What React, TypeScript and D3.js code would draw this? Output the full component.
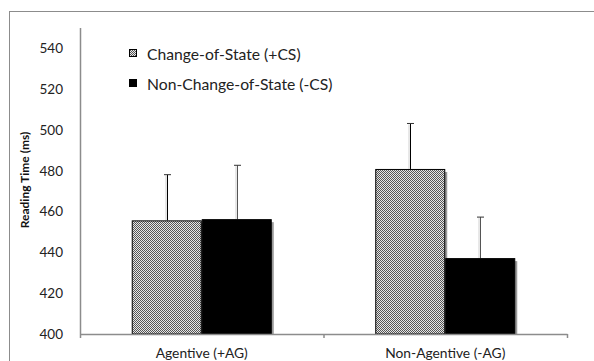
import React, { useEffect, useRef } from 'react';
import * as d3 from 'd3';

// chart data
const categories = ['Agentive (+AG)', 'Non-Agentive (-AG)'];
const seriesNames = ['Change-of-State (+CS)', 'Non-Change-of-State (-CS)'];
const csMeans = [455.7, 480.9];
const csErrors = [22.4, 22.3];
const ncsMeans = [456.3, 437.2];
const ncsErrors = [26.4, 20.1];
const yTicks = [400, 420, 440, 460, 480, 500, 520, 540];

const FONT = 'Lato, "Liberation Sans", sans-serif';

function BarChart() {
  const svgRef = useRef<SVGSVGElement>(null);

  useEffect(() => {
    const svg = d3.select(svgRef.current);
    svg.selectAll('*').remove();

    // dither pattern for the +CS bars
    const defs = svg.append('defs');
    const pat = defs.append('pattern')
      .attr('id', 'dither')
      .attr('width', 2)
      .attr('height', 2)
      .attr('patternUnits', 'userSpaceOnUse');
    pat.append('rect').attr('width', 2).attr('height', 2).attr('fill', '#e6e6e6');
    pat.append('rect').attr('width', 1).attr('height', 1).attr('fill', '#555');
    pat.append('rect').attr('x', 1).attr('y', 1).attr('width', 1).attr('height', 1).attr('fill', '#555');

    // outer frame
    svg.append('rect')
      .attr('x', 9.5).attr('y', 11.5)
      .attr('width', 590).attr('height', 360)
      .attr('fill', 'none').attr('stroke', '#8c8c8c');

    const x0 = 80, x1 = 567, yTop = 28, yBase = 334;
    const x = d3.scaleBand().domain(categories).range([x0, x1]).padding(0);
    const inner = d3.scaleBand().domain(seriesNames).range([0, x.bandwidth()])
      .paddingInner(0).paddingOuter(0.739);
    const y = d3.scaleLinear().domain([400, 550]).range([yBase, yTop]);

    const rows = categories.map((c, i) => [
      { cat: c, s: seriesNames[0], v: csMeans[i], e: csErrors[i], fill: 'url(#dither)' },
      { cat: c, s: seriesNames[1], v: ncsMeans[i], e: ncsErrors[i], fill: '#000' },
    ]).flat();

    // bar shadows
    svg.append('g').selectAll('rect').data(rows).join('rect')
      .attr('x', d => x(d.cat)! + inner(d.s)! + 2)
      .attr('y', d => y(d.v) + 3)
      .attr('width', inner.bandwidth())
      .attr('height', d => yBase - y(d.v) - 3)
      .attr('fill', '#9a9a9a');

    // error bars (upper only) with a faint shadow
    const eb = svg.append('g');
    rows.forEach(d => {
      const cx = Math.round(x(d.cat)! + inner(d.s)! + inner.bandwidth() / 2) + 0.5;
      eb.append('line')
        .attr('x1', cx - 1.5).attr('x2', cx - 1.5)
        .attr('y1', y(d.v + d.e) + 1).attr('y2', y(d.v))
        .attr('stroke', '#d0d0d0').attr('stroke-width', 1);
      eb.append('line')
        .attr('x1', cx).attr('x2', cx)
        .attr('y1', y(d.v + d.e)).attr('y2', y(d.v))
        .attr('stroke', d.fill === '#000' ? '#555' : '#000').attr('stroke-width', 1);
      eb.append('line')
        .attr('x1', cx - 3.5).attr('x2', cx + 3.5)
        .attr('y1', y(d.v + d.e)).attr('y2', y(d.v + d.e))
        .attr('stroke', '#333').attr('stroke-width', 1);
    });

    // bars
    svg.append('g').selectAll('rect').data(rows).join('rect')
      .attr('x', d => x(d.cat)! + inner(d.s)! + 0.5)
      .attr('y', d => y(d.v) + 0.5)
      .attr('width', inner.bandwidth() - 1)
      .attr('height', d => yBase - y(d.v) - 0.5)
      .attr('fill', d => d.fill)
      .attr('stroke', '#000').attr('stroke-width', 1);

    // y axis
    svg.append('line')
      .attr('x1', x0 + 0.5).attr('x2', x0 + 0.5)
      .attr('y1', yTop).attr('y2', yBase + 4)
      .attr('stroke', '#8c8c8c').attr('stroke-width', 1.5);
    svg.append('g').selectAll('text').data(yTicks).join('text')
      .attr('x', 63).attr('y', d => y(d))
      .attr('dy', '0.35em')
      .attr('text-anchor', 'end')
      .attr('font-family', FONT).attr('font-size', 13.5)
      .attr('fill', '#222')
      .text(d => d);

    // x axis
    svg.append('line')
      .attr('x1', x0).attr('x2', x1 + 0.5)
      .attr('y1', yBase + 0.5).attr('y2', yBase + 0.5)
      .attr('stroke', '#8c8c8c').attr('stroke-width', 1.5);
    svg.append('g').selectAll('line').data(categories.slice(1).concat(['end'])).join('line')
      .attr('x1', d => (d === 'end' ? x1 : x(d)!) + 0.5)
      .attr('x2', d => (d === 'end' ? x1 : x(d)!) + 0.5)
      .attr('y1', yBase).attr('y2', yBase + 4)
      .attr('stroke', '#8c8c8c').attr('stroke-width', 1.5);
    svg.append('g').selectAll('text').data(categories).join('text')
      .attr('x', d => x(d)! + x.bandwidth() / 2)
      .attr('y', 358)
      .attr('text-anchor', 'middle')
      .attr('font-family', FONT).attr('font-size', 13.8)
      .attr('fill', '#222')
      .text(d => d);

    // y axis title
    svg.append('text')
      .attr('transform', 'translate(29,180) rotate(-90)')
      .attr('text-anchor', 'middle')
      .attr('font-family', FONT).attr('font-size', 12)
      .attr('font-weight', 'bold')
      .attr('fill', '#111')
      .text('Reading Time (ms)');

    // legend
    const lg = svg.append('g');
    seriesNames.forEach((s, i) => {
      const ly = 49 + i * 30;
      lg.append('rect')
        .attr('x', 129.5).attr('y', ly + 0.5)
        .attr('width', 7).attr('height', 7)
        .attr('fill', i === 0 ? 'url(#dither)' : '#000')
        .attr('stroke', '#000');
      lg.append('text')
        .attr('x', 147).attr('y', ly + 11)
        .attr('font-family', FONT).attr('font-size', 15.7)
        .attr('fill', '#222')
        .text(s);
    });
  }, []);

  return <svg ref={svgRef} width={594} height={361} style={{ position: 'absolute', left: 0, top: 0 }} />;
}

export default function App() {
  return <BarChart />;
}
